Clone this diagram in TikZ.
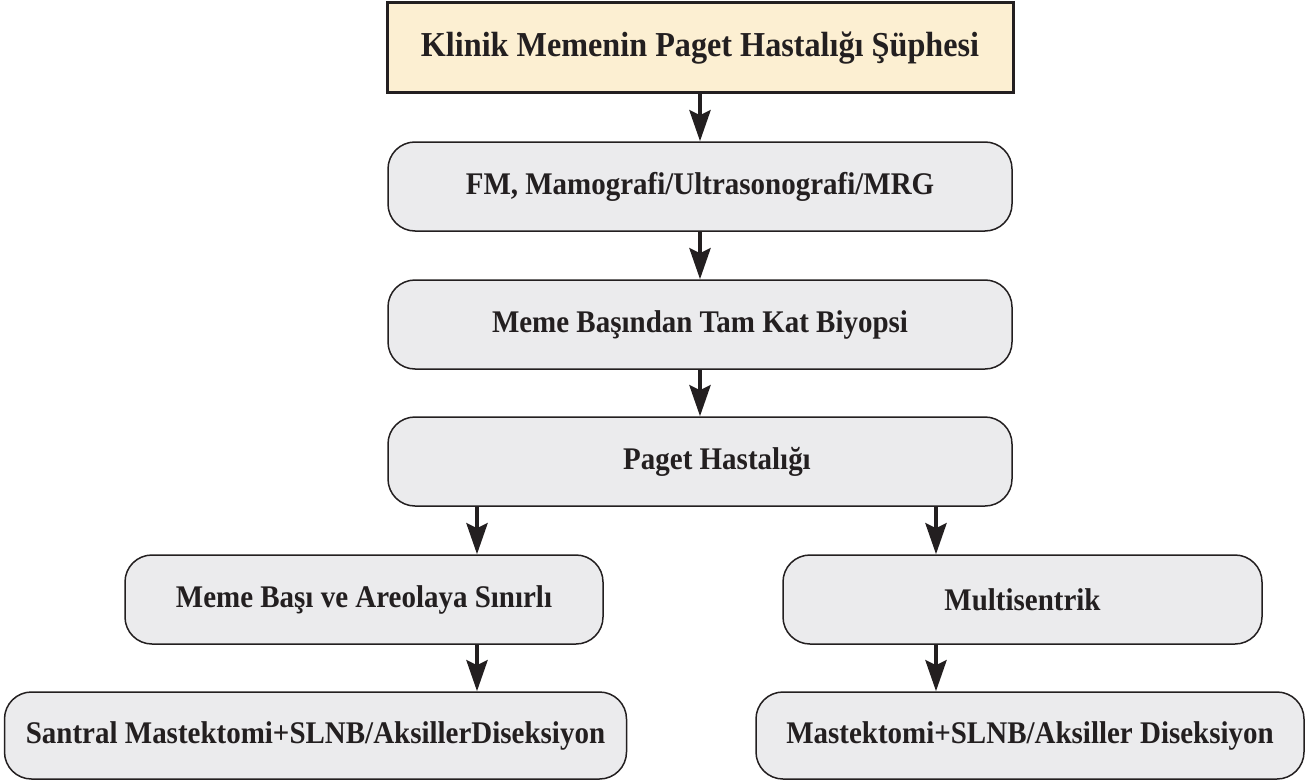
\documentclass[tikz,border=0pt]{standalone}
\usepackage{fontspec}
\setmainfont{Liberation Serif}[FakeStretch=0.92]
\usetikzlibrary{arrows.meta,calc}
\definecolor{ink}{HTML}{231F20}
\definecolor{cream}{HTML}{FCEFD2}
\definecolor{boxgrey}{HTML}{EBEBED}
\begin{document}
\begin{tikzpicture}[x=1pt,y=-1pt,
  rbox/.style={draw=ink, line width=1.5pt, fill=boxgrey, rounded corners=27pt,
    inner sep=0pt, text=ink, font=\bfseries\fontsize{31.5}{36}\selectfont, anchor=center},
  topbox/.style={draw=ink, line width=3pt, fill=cream, inner sep=0pt, text=ink,
    font=\bfseries\fontsize{35}{40}\selectfont, anchor=center},
  arr/.style={draw=ink, line width=4.5pt, -{Stealth[length=31pt,width=21pt,inset=5pt]}}]
\useasboundingbox (0,0) rectangle (1308,781);
\fill[white] (0,0) rectangle (1308,781);

\node[topbox, minimum width=626pt, minimum height=90pt] (b1) at (700,48) {Klinik Memenin Paget Hastalığı Şüphesi};
\node[rbox, minimum width=624pt, minimum height=89pt] (b2) at (700,186.5) {FM, Mamografi/Ultrasonografi/MRG};
\node[rbox, minimum width=624pt, minimum height=89pt] (b3) at (700,324.5) {Meme Başından Tam Kat Biyopsi};
\node[rbox, minimum width=624pt, minimum height=89pt] (b4) at (700,461.5) {\hspace*{34pt}Paget Hastalığı};
\node[rbox, minimum width=478pt, minimum height=89pt] (b5l) at (364,599.5) {Meme Başı ve Areolaya Sınırlı};
\node[rbox, minimum width=479pt, minimum height=89pt] (b5r) at (1022.5,599.5) {Multisentrik};
\node[rbox, minimum width=622pt, minimum height=87pt] (b6l) at (315.5,735.5) {Santral Mastektomi+SLNB/AksillerDiseksiyon};
\node[rbox, minimum width=548pt, minimum height=87pt] (b6r) at (1030,735.5) {Mastektomi+SLNB/Aksiller Diseksiyon};

\coordinate (lx) at (477,0);
\coordinate (rx) at (936,0);

\draw[arr] (b1.south) -- (b2.north);
\draw[arr] (b2.south) -- (b3.north);
\draw[arr] (b3.south) -- (b4.north);
\draw[arr] (lx |- b4.south) -- (lx |- b5l.north);
\draw[arr] (rx |- b4.south) -- (rx |- b5r.north);
\draw[arr] (lx |- b5l.south) -- (lx |- b6l.north);
\draw[arr] (rx |- b5r.south) -- (rx |- b6r.north);
\end{tikzpicture}
\end{document}
